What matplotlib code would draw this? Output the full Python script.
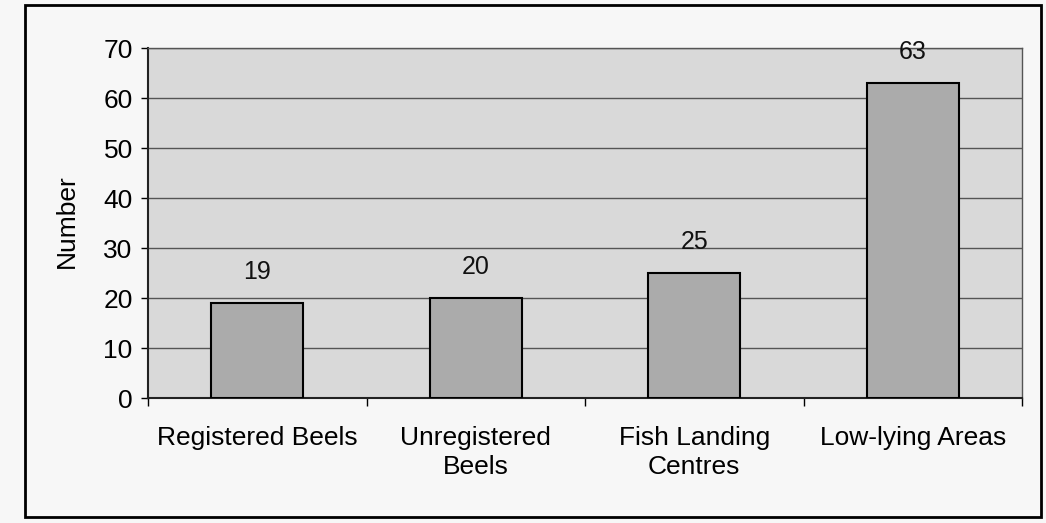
import matplotlib
matplotlib.use("Agg")
import matplotlib.pyplot as plt
from matplotlib.patches import Rectangle

categories = ["Registered Beels", "Unregistered\nBeels", "Fish Landing\nCentres", "Low-lying Areas"]
values = [19, 20, 25, 63]
yticks = [0, 10, 20, 30, 40, 50, 60, 70]

plt.rcParams['font.family'] = ['Liberation Sans', 'DejaVu Sans']

W, H = 1046, 523
fig = plt.figure(figsize=(W / 100, H / 100), dpi=100)
fig.patch.set_facecolor('#f7f7f7')

ax = fig.add_axes([148 / W, 1 - 398 / H, (1022 - 148) / W, (398 - 48) / H])
ax.set_facecolor('#d9d9d9')

x = list(range(len(categories)))
bars = ax.bar(x, values, width=0.42, color='#ababab', edgecolor='black', linewidth=1.5, zorder=3)
for xi, v in zip(x, values):
    ax.annotate(str(v), (xi, v), xytext=(0, 14), textcoords='offset points',
                ha='center', va='bottom', fontsize=18, color='#111111')

ax.set_xlim(-0.5, len(categories) - 0.5)
ax.set_ylim(0, 70)
ax.set_yticks(yticks)
ax.set_yticklabels([str(t) for t in yticks], fontsize=19)
ax.yaxis.grid(True, color='#555555', linewidth=1.0, zorder=1)
ax.set_axisbelow(True)

ax.set_xticks(x)
ax.set_xticklabels(categories, fontsize=19, linespacing=1.25)
ax.set_xticks([i + 0.5 for i in range(-1, len(categories))], minor=True)
ax.tick_params(axis='x', which='major', length=0, pad=20)
ax.tick_params(axis='x', which='minor', length=6, width=1, direction='out')
ax.tick_params(axis='y', length=5, width=1, direction='out', pad=6)

for side in ['left', 'bottom']:
    ax.spines[side].set_linewidth(1.5)
    ax.spines[side].set_color('#222222')
for side in ['top', 'right']:
    ax.spines[side].set_linewidth(1.0)
    ax.spines[side].set_color('#555555')

ax.set_ylabel("Number", fontsize=19)
ax.yaxis.set_label_coords(-0.0795, 0.505)

fig.patches.append(Rectangle((25 / W, 1 - 517 / H), (1041 - 25) / W, (517 - 5) / H,
                             transform=fig.transFigure, fill=False,
                             edgecolor='black', linewidth=2))

fig.savefig("out.png", dpi=100, facecolor=fig.get_facecolor())
